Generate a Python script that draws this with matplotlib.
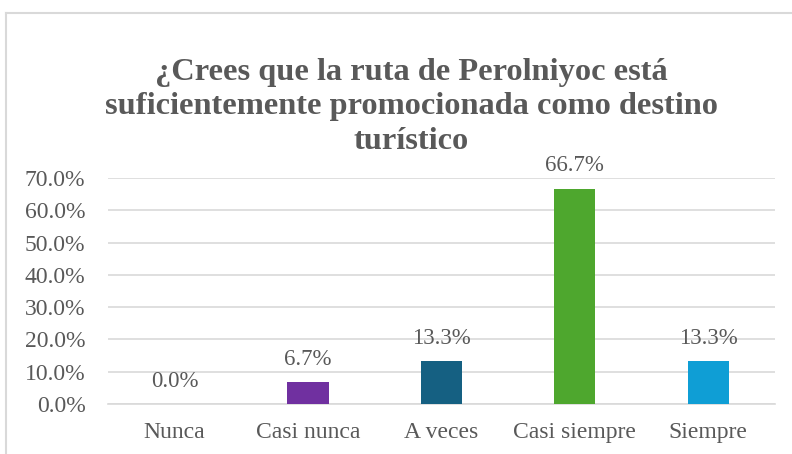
"""Bar chart: promotion of the Perolniyoc route as a tourist destination"""

import matplotlib
matplotlib.use("Agg")
import matplotlib.pyplot as plt
from matplotlib.lines import Line2D

# survey answers and shares (fraction of respondents)
categories = ["Nunca", "Casi nunca", "A veces", "Casi siempre", "Siempre"]
shares = [0.0, 0.067, 0.133, 0.667, 0.133]
value_labels = ["0.0%", "6.7%", "13.3%", "66.7%", "13.3%"]
yticks = [0.0, 0.1, 0.2, 0.3, 0.4, 0.5, 0.6, 0.7]
ytick_labels = ["0.0%", "10.0%", "20.0%", "30.0%", "40.0%", "50.0%", "60.0%", "70.0%"]
title = "¿Crees que la ruta de Perolniyoc está\nsuficientemente promocionada como destino\nturístico"

bar_colors = ["#7030A0", "#7030A0", "#156082", "#4EA72E", "#0F9ED5"]
text_gray = "#595959"
grid_gray = "#D9D9D9"

plt.rcParams['font.family'] = ['Liberation Serif', 'DejaVu Serif']

fig = plt.figure(figsize=(7.92, 4.54), dpi=100)
ax = fig.add_axes([0.136, 0.110, 0.8425, 0.498])

x = list(range(len(categories)))
ax.bar(x, shares, width=0.31, color=bar_colors, zorder=3)

for xi, val, lab in zip(x, shares, value_labels):
    ax.annotate(lab, (xi, val), xytext=(0, 9), textcoords="offset points",
                ha="center", va="bottom", fontsize=16.5, color=text_gray,
                annotation_clip=False)

ax.set_xlim(-0.5, len(categories) - 0.5)
ax.set_ylim(0, 0.7)
ax.set_yticks(yticks)
ax.set_yticklabels(ytick_labels)
ax.set_xticks(x)
ax.set_xticklabels(categories)
ax.tick_params(axis="y", length=0, pad=16, labelsize=17, labelcolor=text_gray)
ax.tick_params(axis="x", length=0, pad=13, labelsize=17, labelcolor=text_gray)

ax.grid(axis="y", color=grid_gray, linewidth=1.2, zorder=0)
for side in ["top", "right", "left"]:
    ax.spines[side].set_visible(False)
ax.spines["bottom"].set_color(grid_gray)
ax.spines["bottom"].set_linewidth(1.2)

fig.text(0.519, 0.765, title, ha="center", va="center", fontsize=23.3,
         fontweight="bold", color=text_gray, linespacing=1.25)

# light chart border (top and left edges visible in the crop)
W, H = 792, 454
fig.add_artist(Line2D([6 / W, 1.0], [1 - 13 / H, 1 - 13 / H], color=grid_gray, linewidth=1.5))
fig.add_artist(Line2D([6 / W, 6 / W], [1 - 13 / H, 0.0], color=grid_gray, linewidth=1.5))

fig.savefig("out.png", dpi=100)
